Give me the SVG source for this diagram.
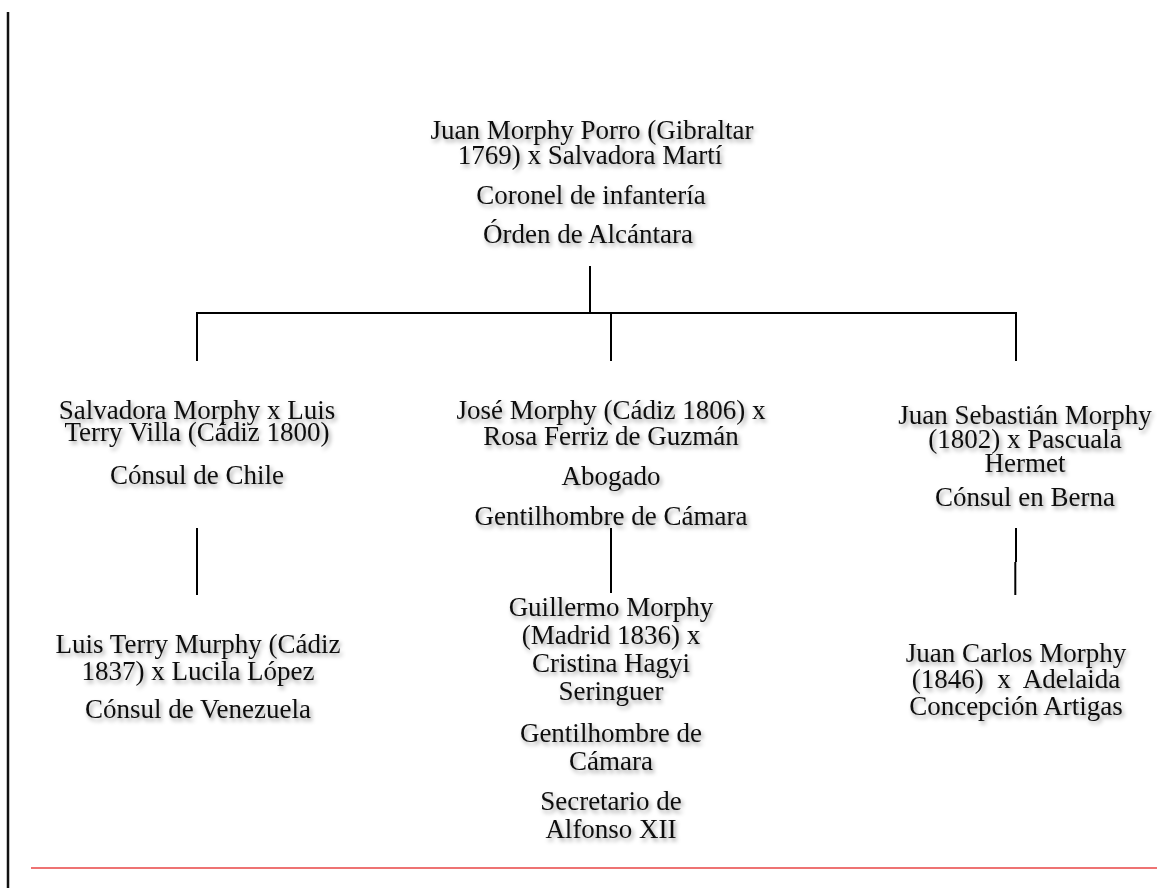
<svg xmlns="http://www.w3.org/2000/svg" width="1157" height="888" viewBox="0 0 1157 888">
<defs>
<filter id="sh" x="-10%" y="-30%" width="120%" height="170%">
<feDropShadow dx="2" dy="3" stdDeviation="2.3" flood-color="#000" flood-opacity="0.38"/>
</filter>
<style>
text{font-family:"Liberation Serif","Times New Roman",serif;font-size:27px;fill:#111;text-anchor:middle;filter:url(#sh)}
.big{font-size:28px}
.c line{stroke:#000;stroke-width:2}
</style>
</defs>
<rect width="1157" height="888" fill="#fff"/>
<line x1="8" y1="12" x2="8" y2="888" stroke="#111" stroke-width="2.5"/>
<line x1="31" y1="868" x2="1157" y2="868" stroke="#ee7373" stroke-width="2"/>
<g class="c" id="connectors">
<line x1="590" y1="266" x2="590" y2="313"/>
<line x1="197" y1="313" x2="1017" y2="313"/>
<line x1="197" y1="312" x2="197" y2="361"/>
<line x1="611" y1="313" x2="611" y2="361"/>
<line x1="1016" y1="312" x2="1016" y2="361"/>
<line x1="197" y1="528" x2="197" y2="595"/>
<line x1="611" y1="528" x2="611" y2="593"/>
<line x1="1016" y1="528" x2="1016" y2="562"/>
<line x1="1015.3" y1="562" x2="1015.3" y2="595"/>
</g>
<g id="n_juan" class="big">
<text x="592" y="139">Juan Morphy Porro (Gibraltar</text>
<text x="590" y="164">1769) x Salvadora Martí</text>
<text x="591" y="204">Coronel de infantería</text>
<text x="588" y="243">Órden de Alcántara</text>
</g>
<g id="n_salvadora">
<text x="197" y="419">Salvadora Morphy x Luis</text>
<text x="197" y="441">Terry Villa (Cádiz 1800)</text>
<text x="197" y="484">Cónsul de Chile</text>
</g>
<g id="n_jose">
<text x="611" y="419">José Morphy (Cádiz 1806) x</text>
<text x="611" y="445">Rosa Ferriz de Guzmán</text>
<text x="611" y="485">Abogado</text>
<text x="611" y="525">Gentilhombre de Cámara</text>
</g>
<g id="n_juansebastian">
<text x="1025" y="424">Juan Sebastián Morphy</text>
<text x="1025" y="448">(1802) x Pascuala</text>
<text x="1025" y="472">Hermet</text>
<text x="1025" y="506">Cónsul en Berna</text>
</g>
<g id="n_luisterry">
<text x="198" y="653">Luis Terry Murphy (Cádiz</text>
<text x="198" y="680">1837) x Lucila López</text>
<text x="198" y="718">Cónsul de Venezuela</text>
</g>
<g id="n_guillermo">
<text x="611" y="616">Guillermo Morphy</text>
<text x="611" y="644">(Madrid 1836) x</text>
<text x="611" y="672">Cristina Hagyi</text>
<text x="611" y="700">Seringuer</text>
<text x="611" y="742">Gentilhombre de</text>
<text x="611" y="770">Cámara</text>
<text x="611" y="810">Secretario de</text>
<text x="611" y="838">Alfonso XII</text>
</g>
<g id="n_juancarlos">
<text x="1016" y="662">Juan Carlos Morphy</text>
<text x="1016" y="688" xml:space="preserve">(1846)  x  Adelaida</text>
<text x="1016" y="715">Concepción Artigas</text>
</g>
</svg>
